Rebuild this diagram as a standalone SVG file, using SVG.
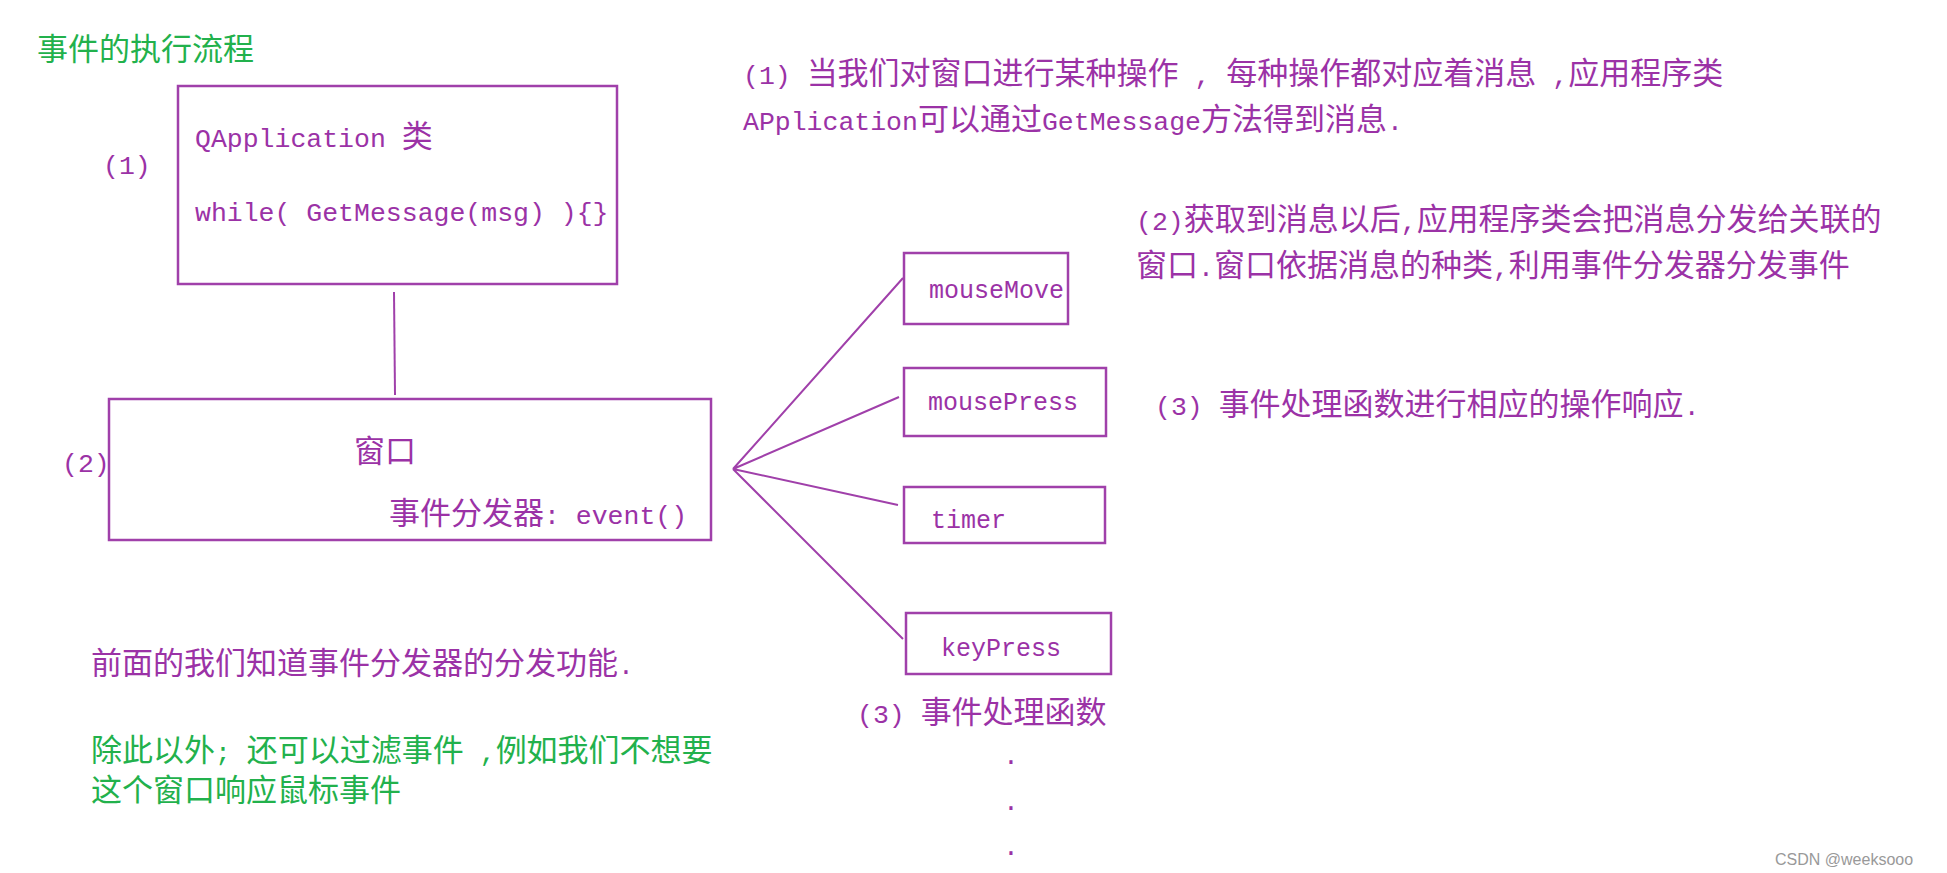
<svg xmlns="http://www.w3.org/2000/svg" width="1947" height="873" viewBox="0 0 1947 873">
<style>
text{font-family:"Liberation Mono","Noto Sans CJK SC",monospace;font-size:26.5px;fill:#9b32a6}
.c{font-size:31px}
.s{font-size:25px}
.g{fill:#22b14c}
.box{fill:none;stroke:#a040aa;stroke-width:2.5}
.ln{stroke:#a040aa;stroke-width:2;fill:none}
</style>
<rect width="1947" height="873" fill="#fff"/>
<text class="g c" x="37" y="60">事件的执行流程</text>
<g id="app"><rect class="box" x="178" y="86" width="439" height="198"/>
<text x="195" y="147">QApplication <tspan class="c">类</tspan></text>
<text x="195" y="221">while( GetMessage(msg) ){}</text></g>
<text x="103" y="174">(1)</text>
<g id="window"><rect class="box" x="109" y="399" width="602" height="141"/>
<text class="c" x="354" y="462">窗口</text>
<text x="389" y="524"><tspan class="c">事件分发器</tspan>:  event()</text></g>
<text x="62" y="472">(2)</text>
<g id="mouseMove"><rect class="box" x="904" y="253" width="164" height="71"/><text class="s" x="929" y="298">mouseMove</text></g>
<g id="mousePress"><rect class="box" x="904" y="368" width="202" height="68"/><text class="s" x="928" y="410">mousePress</text></g>
<g id="timer"><rect class="box" x="904" y="487" width="201" height="56"/><text class="s" x="931" y="528">timer</text></g>
<g id="keyPress"><rect class="box" x="906" y="613" width="205" height="61"/><text class="s" x="941" y="656">keyPress</text></g>
<g id="connectors">
<path class="ln" d="M394 292 L395 395"/>
<path class="ln" d="M733 469 L903 278 M733 469 L899 397 M733 469 L898 505 M733 469 L903 639"/>
</g>
<text x="857" y="723">(3) <tspan class="c">事件处理函数</tspan></text>
<text x="1003" y="764">.</text><text x="1003" y="810">.</text><text x="1003" y="855">.</text>
<text x="743" y="84">(1) <tspan class="c">当我们对窗口进行某种操作</tspan> , <tspan class="c">每种操作都对应着消息</tspan> ,<tspan class="c">应用程序类</tspan></text>
<text x="743" y="130">APplication<tspan class="c">可以通过</tspan>GetMessage<tspan class="c">方法得到消息</tspan>.</text>
<text x="1136" y="230">(2)<tspan class="c">获取到消息以后</tspan>,<tspan class="c">应用程序类会把消息分发给关联的</tspan></text>
<text x="1136" y="276"><tspan class="c">窗口</tspan>.<tspan class="c">窗口依据消息的种类</tspan>,<tspan class="c">利用事件分发器分发事件</tspan></text>
<text x="1155" y="415">(3) <tspan class="c">事件处理函数进行相应的操作响应</tspan>.</text>
<text x="91" y="674"><tspan class="c">前面的我们知道事件分发器的分发功能</tspan>.</text>
<text class="g" x="91" y="761"><tspan class="c">除此以外</tspan>; <tspan class="c">还可以过滤事件</tspan> ,<tspan class="c">例如我们不想要</tspan></text>
<text class="g c" x="91" y="801">这个窗口响应鼠标事件</text>
<text x="1775" y="865" style="font-family:'Liberation Sans',sans-serif;font-size:16px;fill:#999">CSDN @weeksooo</text>
</svg>
